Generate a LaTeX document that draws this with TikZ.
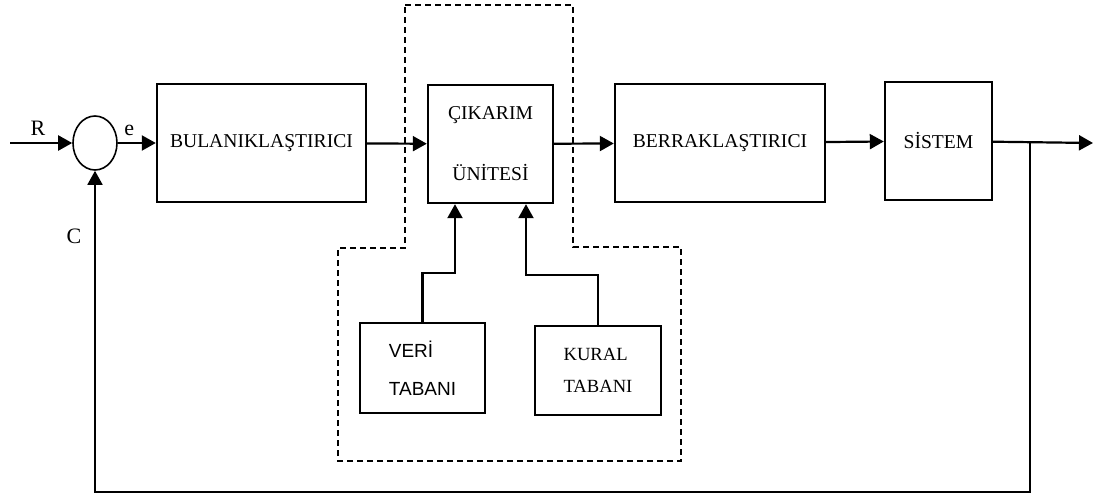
\documentclass[tikz,border=0pt]{standalone}
\usepackage{fontspec}
\setmainfont{Liberation Serif}
\newfontfamily\sansfont{Liberation Sans}
\usetikzlibrary{
    arrows.meta,
    shapes,
    positioning
}

\begin{document}
\begin{tikzpicture}[x=0.5pt, y=-0.5pt,
    block/.style={draw, line width=1.2pt, minimum height=59pt, inner sep=2pt, font=\fontsize{9.8}{11}\selectfont},
    base/.style={draw, line width=1.2pt, minimum height=45pt, inner sep=2pt, align=left},
    flow/.style={line width=1.1pt, -{Triangle[length=7pt, width=7.5pt]}},
    sig/.style={font=\fontsize{11}{13}\selectfont}]
                        \useasboundingbox (0, 0) rectangle (1105, 504);

                        \node[ellipse, draw, line width=0.8pt, minimum width=22pt, minimum height=27pt, inner sep=0pt] (sum) at (95, 143) {};
                        \node[block, minimum width=104.5pt] (bul) at (261.5, 143) {BULANIKLAŞTIRICI};
                        \node[block, minimum width=62.5pt, align=center] (cik) at (490.5, 144) {ÇIKARIM\\[19.5pt]ÜNİTESİ};
                        \node[block, minimum width=105pt] (ber) at (720, 143) {BERRAKLAŞTIRICI};
                        \node[block, minimum width=53.5pt] (sis) at (938.5, 141) {SİSTEM};
                        \node[base, minimum width=62.5pt, font=\sansfont\fontsize{9.5}{19}\selectfont] (veri) at (422.5, 368) {VERİ\\TABANI};
                        \node[base, minimum width=63pt, minimum height=44.5pt, font=\fontsize{9.3}{16}\selectfont] (kur) at (598, 370.5) {KURAL\\TABANI};

                        \node[sig] (c) at (74, 236) {C};
                        \coordinate (in) at (10, 143);
                        \coordinate (out) at (1093, 143);
                        \coordinate (br) at (1030, 143);
                        \coordinate (fb) at (1030, 492);
                        \coordinate (v1) at (455, 273);
                        \coordinate (k1) at (526, 275);

                        % dashed outline of the controller
                        \draw[line width=0.7pt, dash pattern=on 3pt off 2pt]
                        (405, 5) -- (573, 5) -- (573, 247) -- (681, 247) -- (681, 461)
                        -- (338, 461) -- (338, 248) -- (405, 248) -- cycle;

                        \draw
                        (in) edge [flow] node[sig, above, pos=0.45] {R} (sum)
                        (sum) edge [flow] node[sig, above, pos=0.3] {e} (bul)
                        (bul) edge [flow] (cik)
                        (cik) edge [flow] (ber)
                        (ber) edge [flow] (sis);
                        \draw[flow] (sis) -- (out);
                        \draw[flow] (veri.north) |- (v1) -- (v1 |- cik.south);
                        \draw[flow] (kur.north) |- (k1) -- (k1 |- cik.south);
                        \draw[flow, line width=0.9pt] (br) -- (fb) -| (sum.south);
                    \end{tikzpicture}
\end{document}
